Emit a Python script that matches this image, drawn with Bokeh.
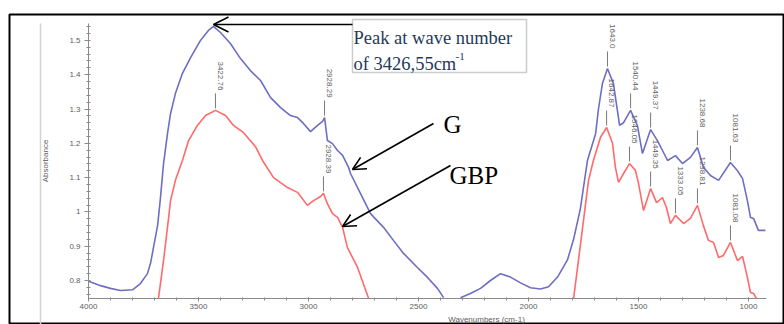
import math
from bokeh.plotting import figure
from bokeh.models import (Range1d, LinearAxis, SingleIntervalTicker, Arrow, OpenHead,
                          Label, BoxAnnotation, ColumnDataSource)
from bokeh.core.properties import value
from bokeh.embed import file_html
from bokeh.resources import INLINE

# ---------------- data ----------------
# G sample (blue) – first part, until it meets the x axis
g_wave_1 = [4000, 3945, 3900, 3855, 3800, 3764, 3732, 3718, 3705, 3686, 3673, 3659, 3641,
            3627, 3605, 3573, 3536, 3491, 3455, 3432, 3400, 3355, 3309, 3264, 3218, 3173,
            3127, 3082, 3050, 3023, 2991, 2959, 2936, 2927, 2914, 2891, 2868, 2845, 2818,
            2809, 2764, 2718, 2659, 2614, 2568, 2505, 2459, 2414, 2386]
g_abs_1 = [0.798, 0.785, 0.777, 0.771, 0.773, 0.791, 0.820, 0.850, 0.895, 0.960, 1.040, 1.140,
           1.228, 1.287, 1.345, 1.404, 1.450, 1.500, 1.529, 1.541, 1.523, 1.491, 1.447, 1.412,
           1.383, 1.334, 1.304, 1.281, 1.275, 1.258, 1.234, 1.252, 1.264, 1.275, 1.208, 1.199,
           1.179, 1.165, 1.130, 1.112, 1.054, 0.995, 0.955, 0.917, 0.879, 0.838, 0.809, 0.777,
           0.750]
# G sample (blue) – second part
g_wave_2 = [2309, 2264, 2218, 2173, 2127, 2082, 2036, 1991, 1945, 1909, 1868, 1823, 1795,
            1764, 1732, 1695, 1682, 1664, 1641, 1614, 1586, 1568, 1536, 1505, 1482, 1445,
            1414, 1391, 1368, 1332, 1300, 1264, 1232, 1205, 1173, 1136, 1082, 1050, 1027,
            1005, 991, 977, 955, 923]
g_abs_2 = [0.750, 0.762, 0.777, 0.800, 0.820, 0.810, 0.793, 0.779, 0.775, 0.782, 0.810, 0.860,
           0.920, 1.010, 1.150, 1.228, 1.300, 1.374, 1.418, 1.374, 1.252, 1.260, 1.296, 1.252,
           1.170, 1.240, 1.208, 1.179, 1.150, 1.164, 1.141, 1.159, 1.188, 1.130, 1.106, 1.092,
           1.144, 1.120, 1.097, 1.033, 0.984, 0.981, 0.946, 0.946]

# GBP sample (red) – first part
gbp_wave_1 = [3682, 3673, 3659, 3641, 3627, 3605, 3573, 3545, 3505, 3468, 3423, 3377, 3341,
              3295, 3273, 3241, 3209, 3159, 3095, 3050, 3005, 2977, 2945, 2932, 2914, 2891,
              2868, 2845, 2823, 2777, 2727]
gbp_abs_1 = [0.748, 0.791, 0.858, 0.955, 1.033, 1.092, 1.150, 1.208, 1.252, 1.281, 1.296, 1.281,
             1.252, 1.231, 1.214, 1.190, 1.150, 1.100, 1.071, 1.057, 1.019, 1.033, 1.045, 1.054,
             1.024, 0.995, 0.984, 0.955, 0.896, 0.838, 0.748]
# GBP sample (red) – second part
gbp_wave_2 = [1795, 1773, 1750, 1727, 1705, 1673, 1645, 1618, 1605, 1591, 1568, 1541, 1514,
              1500, 1477, 1445, 1418, 1391, 1373, 1355, 1332, 1295, 1264, 1232, 1205, 1182,
              1159, 1136, 1114, 1082, 1050, 1027, 1005, 991, 977, 964]
gbp_abs_2 = [0.748, 0.858, 0.975, 1.092, 1.150, 1.217, 1.246, 1.200, 1.130, 1.086, 1.112, 1.141,
             1.121, 1.083, 1.004, 1.068, 1.027, 1.042, 1.013, 0.966, 0.990, 0.966, 0.981, 1.019,
             0.960, 0.917, 0.911, 0.867, 0.873, 0.911, 0.858, 0.870, 0.809, 0.765, 0.762, 0.748]

# peak labels
g_peak_wave = [2927, 1641, 1536, 1445, 1232, 1082]
g_peak_abs = [1.275, 1.418, 1.296, 1.240, 1.188, 1.144]
g_peak_text = ["2928.29", "1643.0", "1540.44", "1449.37", "1238.68", "1081.63"]
gbp_peak_wave = [3423, 2932, 1645, 1541, 1445, 1332, 1232, 1082]
gbp_peak_abs = [1.296, 1.054, 1.246, 1.141, 1.068, 0.990, 1.019, 0.911]
gbp_peak_text = ["3422.76", "2928.39", "1642.87", "1546.05", "1449.35", "1333.05",
                 "1238.81", "1081.08"]

x_ticks_step = 500
y_ticks_step = 0.1
x_label = "Wavenumbers (cm-1)"
y_label = "Absorbance"
note_line1 = "Peak at wave number"
note_line2 = "of 3426,55cm"
note_sup = "-1"
name_g = "G"
name_gbp = "GBP"

# ---------------- layout helpers (pixel -> data) ----------------
X0PX, SX = 88.0, 0.22          # page px of 4000, px per wavenumber
Y0PX, SY = 280.0, 343.0        # page px of 0.8, px per absorbance unit
FL, FR, FT, FB = 9, 784, 14, 324   # frame edges in page px


def wx(px):
    return 4000 - (px - X0PX) / SX


def vy(py):
    return 0.8 + (Y0PX - py) / SY


p = figure(width=784, height=324,
           x_range=Range1d(wx(FL), wx(FR)), y_range=Range1d(vy(FB), vy(FT)),
           output_backend="svg", toolbar_location=None,
           x_axis_location=None, y_axis_location=None,
           min_border_left=FL, min_border_right=0, min_border_top=FT, min_border_bottom=0)
p.grid.visible = False
p.outline_line_color = "black"
p.outline_line_width = 2
p.background_fill_color = "white"
p.border_fill_color = "white"

GREY = "#8a8a8a"
TXT = "#606060"
FONT = "Liberation Sans"

# axes inside the frame
xax = LinearAxis(ticker=SingleIntervalTicker(interval=x_ticks_step, num_minor_ticks=5))
xax.fixed_location = vy(298)
xax.bounds = (4000, 918)
yax = LinearAxis(ticker=SingleIntervalTicker(interval=y_ticks_step, num_minor_ticks=5),
                 axis_label=y_label)
yax.fixed_location = 4000
yax.bounds = (vy(298), vy(23))
for ax in (xax, yax):
    ax.axis_line_color = GREY
    ax.major_tick_line_color = GREY
    ax.minor_tick_line_color = GREY
    ax.major_label_text_color = TXT
    ax.major_label_text_font = FONT
    ax.major_label_text_font_size = "8px"
    ax.axis_label_text_color = TXT
    ax.axis_label_text_font = FONT
    ax.axis_label_text_font_size = "8px"
    ax.axis_label_text_font_style = "normal"
xax.major_tick_in = 1
xax.major_tick_out = 3
xax.minor_tick_in = 1
xax.minor_tick_out = 2
xax.major_label_standoff = 2
yax.major_tick_in = 0
yax.major_tick_out = 4
yax.minor_tick_in = 2
yax.minor_tick_out = 2
yax.major_label_standoff = 4
yax.axis_label_standoff = 16
p.add_layout(xax, "below")
p.add_layout(yax, "left")

# light grey separator left of the y label
p.segment(x0=[wx(40)], y0=[vy(23)], x1=[wx(40)], y1=[vy(330)], line_color="#d4d4d4",
          line_width=1.5)

p.add_layout(Label(x=wx(486), y=vy(323), text=x_label, text_align="center",
                   text_baseline="bottom", text_color=TXT, text_font=FONT,
                   text_font_size="8px"))

# spectra
BLUE = "#6e6ec2"
RED = "#ff6a6a"
p.line(g_wave_1, g_abs_1, line_color=BLUE, line_width=1.6)
p.line(g_wave_2, g_abs_2, line_color=BLUE, line_width=1.6)
p.line(gbp_wave_1, gbp_abs_1, line_color=RED, line_width=1.6)
p.line(gbp_wave_2, gbp_abs_2, line_color=RED, line_width=1.6)

# peak leader lines and rotated labels
gap0, lead, gap1 = 2 / SY, 15 / SY, 3 / SY
for waves, absv, texts in ((g_peak_wave, g_peak_abs, g_peak_text),
                           (gbp_peak_wave, gbp_peak_abs, gbp_peak_text)):
    src = ColumnDataSource(dict(
        x=waves,
        y0=[a + gap0 for a in absv],
        y1=[a + gap0 + lead for a in absv],
        yt=[a + gap0 + lead + gap1 for a in absv],
        t=texts))
    p.segment(x0="x", y0="y0", x1="x", y1="y1", source=src, line_color="#7a7a7a",
              line_width=1)
    p.text(x="x", y="yt", text="t", source=src, angle=-math.pi / 2, text_align="right",
           text_baseline="middle", x_offset=5, text_color=TXT,
           text_font=value(FONT), text_font_size="8px")

# annotation box
p.add_layout(BoxAnnotation(left=wx(352), right=wx(526), top=vy(19), bottom=vy(72),
                           fill_color="white", fill_alpha=1, line_color="#555555",
                           line_width=1.5))
NAVY = "#243a58"
SERIF = "Liberation Serif"
p.add_layout(Label(x=wx(353), y=vy(37), text=note_line1, text_color=NAVY,
                   text_font=SERIF, text_font_size="18.5px", text_baseline="alphabetic"))
p.add_layout(Label(x=wx(353), y=vy(63), text=note_line2, text_color=NAVY,
                   text_font=SERIF, text_font_size="18.5px", text_baseline="alphabetic"))
p.add_layout(Label(x=wx(455), y=vy(56), text=note_sup, text_color=NAVY,
                   text_font=SERIF, text_font_size="11px", text_baseline="alphabetic"))

# arrows
p.add_layout(Arrow(end=OpenHead(size=15, line_width=1.6, line_color="black"),
                   x_start=wx(352), y_start=vy(24), x_end=wx(213), y_end=vy(24),
                   line_width=1.6, line_color="black"))
p.add_layout(Arrow(end=OpenHead(size=13, line_width=1.6, line_color="black"),
                   x_start=wx(433), y_start=vy(123), x_end=wx(352), y_end=vy(169),
                   line_width=1.6, line_color="black"))
p.add_layout(Arrow(end=OpenHead(size=13, line_width=1.6, line_color="black"),
                   x_start=wx(450), y_start=vy(165), x_end=wx(342), y_end=vy(226),
                   line_width=1.6, line_color="black"))

p.add_layout(Label(x=wx(443), y=vy(124), text=name_g, text_color="black",
                   text_font=SERIF, text_font_size="25px", text_baseline="alphabetic"))
p.add_layout(Label(x=wx(449), y=vy(175), text=name_gbp, text_color="black",
                   text_font=SERIF, text_font_size="25px", text_baseline="alphabetic"))

open("out.html", "w").write(file_html(p, INLINE))
